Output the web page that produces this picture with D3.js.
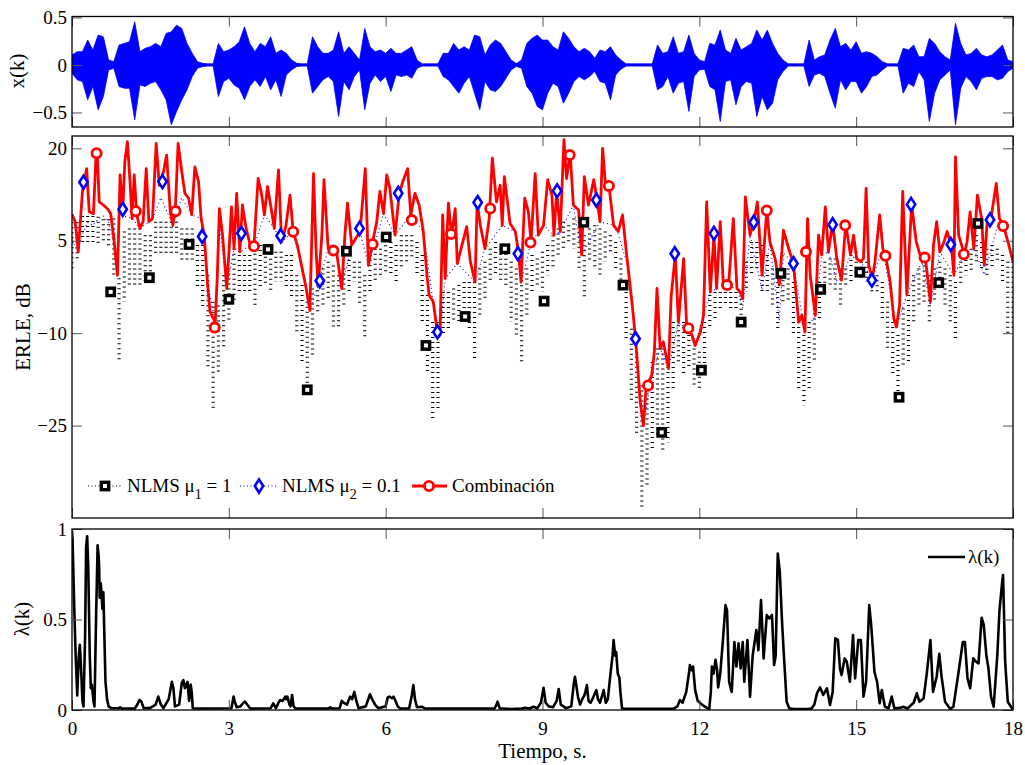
<!DOCTYPE html>
<html>
<head>
<meta charset="utf-8">
<script src="https://cdn.jsdelivr.net/npm/d3@7"></script>
<style>
  body { margin: 0; background: #fff; }
  svg text { font-family: "Liberation Serif", "Times New Roman", serif !important; }
</style>
</head>
<body>
<div id="chart"></div>
<script>
// ---- data ----
var timeTicks = [0, 3, 6, 9, 12, 15, 18];
var sigTicks = [-0.5, 0, 0.5];
var erleTicks = [-25, -10, 5, 20];
var lamTicks = [0, 0.5, 1];

var step = 0.1; // seconds between envelope samples

// x(k): upper / lower envelope of the speech signal, every 0.1 s
var sigUp = [
  .105, .14, .14, .262, .157, .314, .297, .052, .035, .21,
  .227, .245, .454, .14, .175, .192, .227, .192, .332, .349,
  .419, .384, .227, .122, .035, .017, .012, .012, .227, .14,
  .157, .192, .245, .402, .227, .14, .227, .192, .297, .122,
  .157, .122, .052, .017, .012, .012, .297, .192, .122, .122,
  .157, .349, .122, .192, .122, .052, .384, .192, .14, .157,
  .122, .175, .122, .122, .157, .192, .052, .012, .012, .012,
  .012, .122, .122, .227, .157, .192, .157, .314, .297, .105,
  .21, .262, .227, .14, .052, .015, .052, .227, .28, .314,
  .262, .262, .192, .157, .349, .28, .192, .14, .175, .14,
  .07, .157, .14, .192, .105, .052, .012, .012, .012, .012,
  .012, .012, .21, .122, .14, .297, .122, .14, .314, .122,
  .052, .035, .227, .21, .367, .157, .122, .28, .157, .192,
  .227, .367, .262, .367, .227, .122, .052, .012, .012, .012,
  .012, .262, .052, .087, .105, .262, .384, .192, .227, .157,
  .245, .122, .14, .122, .087, .035, .012, .012, .012, .175,
  .157, .21, .087, .087, .28, .227, .14, .087, .052, .437,
  .227, .105, .122, .175, .105, .087, .105, .157, .21, .052,
  .035
];
var sigLo = [
  -.087, -.157, -.175, -.367, -.227, -.472, -.332, -.052, -.035, -.227,
  -.245, -.245, -.577, -.21, -.227, -.192, -.175, -.262, -.367, -.629,
  -.489, -.367, -.262, -.122, -.035, -.017, -.012, -.012, -.332, -.175,
  -.14, -.21, -.245, -.367, -.227, -.157, -.227, -.122, -.262, -.157,
  -.332, -.105, -.052, -.017, -.012, -.012, -.297, -.227, -.157, -.122,
  -.175, -.542, -.175, -.262, -.122, -.052, -.472, -.192, -.105, -.175,
  -.122, -.28, -.105, -.122, -.105, -.14, -.035, -.012, -.012, -.012,
  -.012, -.122, -.157, -.227, -.297, -.192, -.122, -.297, -.472, -.175,
  -.262, -.28, -.227, -.14, -.052, -.015, -.035, -.227, -.297, -.437,
  -.472, -.297, -.192, -.227, -.402, -.297, -.175, -.122, -.157, -.122,
  -.07, -.175, -.192, -.367, -.105, -.045, -.012, -.012, -.012, -.012,
  -.012, -.012, -.262, -.227, -.122, -.297, -.192, -.175, -.489, -.122,
  -.052, -.045, -.227, -.262, -.594, -.175, -.157, -.419, -.227, -.175,
  -.192, -.542, -.332, -.472, -.402, -.157, -.07, -.012, -.012, -.012,
  -.012, -.227, -.105, -.087, -.122, -.297, -.454, -.157, -.262, -.175,
  -.175, -.297, -.227, -.122, -.105, -.052, -.012, -.012, -.012, -.297,
  -.192, -.227, -.07, -.157, -.594, -.297, -.157, -.105, -.052, -.629,
  -.245, -.122, -.175, -.262, -.14, -.122, -.122, -.157, -.14, -.07,
  -.035
];

// NLMS mu1 = 1 : fast oscillating ERLE, high / low extent every 0.1 s (dB)
var nlms1Hi = [
  8, 8, 9, 9, 9, 8.9, 8.5, 8.5, 8.6, -1.1,
  6.5, 7, 7, 7, 5.9, 5.9, 8.1, 8.1, 8.1, 8.1,
  8.1, 7, 7, 7, 4.3, 4.3, -0.6, -4.9, -5.5, -0.6,
  0.5, 3.7, 2.7, 2.7, 2.7, 3.7, 4.3, 3.2, 3.7, 3.2,
  3.2, 2.7, 2.7, -0.6, -2.2, -4.9, -2.75, -0.6, 0.5, 1.6,
  1.0, -0.6, 0.5, 2.7, 1.6, 1.6, -0.6, 2.7, 3.7, 3.7,
  5.9, 4.8, 4.3, 5.9, 5.9, 5.9, 4.8, 2.7, -3.8, -8.2,
  -8.2, -3.3, -3.3, -2.75, -2.2, -1.7, -1.7, -1.7, 0.5, 1.6,
  3.7, 4.8, 3.7, 3.7, 1.6, 0.5, -0.6, 0.5, 2.7, 2.1,
  3.2, 4.3, 5.9, 7.0, 8.1, 7.5, 8.6, 8.1, 5.9, 7.0,
  7.5, 7.0, 6.5, 5.9, 4.8, 2.1, -1.7, -9.3, -13, -18.5,
  -19, -14.7, -12.5, -12.5, -14.7, -8.2, -7.1, -8.2, -10.3, -12.5,
  -13, -8.2, -3.8, -3.3, -3.3, -3.3, -3.3, -3.3, -4.4, 1.6,
  4.8, 4.8, 4.3, 2.7, 0.5, -1.7, -0.6, 0.5, -1.7, -8.2,
  -10.3, -8.2, -6, -1.7, 1.6, 2.1, 2.1, 0.5, 0.5, 2.7,
  3.2, 1.6, 1.6, -0.6, -0.6, -1.7, -4.9, -8.2, -10.3, -6,
  -3.8, -0.6, 0.5, 1.0, -0.6, 0.5, 1.6, 0.5, -0.6, -1.7,
  1.6, 2.7, 3.7, 5.9, 4.8, 3.7, 4.3, 3.7, 2.7, 1.6,
  1.6
];
var nlms1Lo = [
  0.5, 2, 4.5, 4.3, 4.3, 4.3, 4.5, 3.7, -0.6, -14.7,
  -4.9, -2.2, -2.2, -2.2, -1.7, -1.7, 2.7, 2.7, 2.7, 2.7,
  2.7, 1.6, 1.6, 1.6, -2.75, -6, -15.75, -22.3, -16.8, -12.5,
  -8.2, -4.9, -3.8, -3.3, -3.8, -6, -2.75, -2.2, -3.3, -1.7,
  -1.7, -2.75, -4.4, -10.3, -14.7, -19.5, -13.6, -7.1, -5.5, -4.9,
  -9.3, -9.3, -6, -3.3, -1.7, -5.5, -10.6, -3.3, -1.7, -1.1,
  -0.6, -0.6, -1.7, 0.5, 1.6, 2.1, -0.6, -8.2, -16.8, -23.9,
  -22.3, -10.3, -9.3, -8.2, -8.2, -7.1, -9.3, -14.1, -7.1, -4.9,
  -1.7, -0.6, -1.7, -2.2, -8.2, -10.3, -14.7, -7.1, -3.8, -2.2,
  -3.3, -0.6, 0.5, 2.7, 3.7, 4.3, 3.7, 0.5, -4.4, 1.6,
  0.5, -0.6, 1.6, 2.7, 0.5, -2.75, -11.4, -21.2, -26.6, -38.5,
  -34.7, -28.75, -26.6, -29.3, -27.7, -19, -14.7, -16.8, -15.75, -19,
  -19, -15.75, -9.3, -8.2, -6, -5.5, -6, -6.5, -8.2, -3.3,
  -0.6, 0.5, -3.8, -3.3, -6, -9.3, -4.9, -4.9, -10.3, -19,
  -21.7, -19, -14.7, -8.2, -3.8, -2.75, -3.3, -6, -2.75, -1.7,
  -0.6, -1.1, -1.7, -3.8, -3.3, -8.2, -12.5, -16.8, -21.2, -15.75,
  -14.7, -8.2, -6, -4.9, -8.2, -4.9, -2.75, -6, -8.2, -10.9,
  -2.2, -0.6, 0, 1.6, 0.5, -0.6, 0.5, 1.6, -1.7, -10.3,
  -9.3
];

// NLMS mu2 = 0.1 : [t (s), ERLE (dB)]
var nlms2 = [
  [0,5],[0.1,3.5],[0.2,6],[0.3,8],[0.4,7.5],[0.5,8.5],[0.6,9],[0.7,8],[0.8,5],[0.87,-0.6],
  [0.92,12],[1.0,9],[1.15,8.6],[1.3,7],[1.47,8],[1.54,8.6],[1.7,12],[1.93,7.5],[2.1,12],[2.29,9.2],
  [2.47,8.6],[2.59,-1.7],[2.74,-8.2],[2.82,8],[2.96,-2.75],[3.1,3.7],[3.21,3.2],[3.41,4.3],[3.48,4],[3.68,9.2],
  [3.87,7],[4.01,4.8],[4.23,6.5],[4.39,1],[4.55,-6.3],[4.71,-2.2],[4.9,3.7],[5.06,3.2],[5.16,-2.75],[5.35,4.3],
  [5.51,6.5],[5.67,1],[5.96,9.4],[6.18,5.9],[6.48,9.2],[6.72,6.5],[6.98,-9.3],[7.04,-10.3],[7.14,-1.1],[7.37,1.3],
  [7.71,-1.7],[7.9,3.7],[8.23,7.5],[8.48,6.5],[8.59,-1.7],[8.78,4.8],[9.02,7.5],[9.22,5.9],[9.34,6.5],[9.59,10.8],
  [9.75,2.7],[10.1,8.1],[10.36,7.5],[10.45,6.0],[10.61,1.5],[10.71,-4.9],[10.78,-10.9],[10.93,-25],[11.09,-16.8],[11.25,-12.5],
  [11.41,-15.75],[11.6,-8.2],[11.76,-9.3],[11.92,-12],[12.08,-7.1],[12.21,-3.3],[12.46,-2.2],[12.72,-2.75],[12.83,-6],[12.97,5.9],
  [13.2,-3],[13.35,4.8],[13.53,-8],[13.61,3],[13.8,1.3],[14.02,-9.8],[14.22,-7.1],[14.34,2.7],[14.47,3.2],[14.63,-1.5],
  [14.72,-1.4],[14.89,2.7],[15.08,1.6],[15.31,-1.1],[15.51,3.7],[15.77,-9],[15.97,-3.8],[16.26,1.6],[16.42,-5.5],[16.6,3.2],
  [16.87,-0.6],[17.07,2.8],[17.25,3.7],[17.45,-0.5],[17.74,8.6],[17.92,4.3],[18,1.6]
];

// Combinacion : [t (s), ERLE (dB)]
var comb = [
  [0,9.3],[0.06,8.1],[0.12,3.2],[0.2,13],[0.28,16.7],[0.33,9.7],[0.41,9.4],[0.46,18.9],[0.485,18.9],[0.52,11.3],
  [0.6,10.8],[0.68,10.2],[0.74,9.4],[0.8,5.4],[0.87,-0.6],[0.92,15.7],[0.97,9.7],[1.01,17.8],[1.06,21.1],[1.11,14.6],
  [1.15,8.6],[1.19,15.7],[1.24,9.2],[1.3,7.0],[1.36,8.1],[1.42,16.7],[1.47,8.1],[1.54,8.6],[1.61,20.8],[1.67,14],
  [1.75,16.2],[1.81,18.9],[1.88,9.7],[1.93,7.5],[1.98,10.8],[2.03,20.8],[2.1,16.2],[2.16,12.7],[2.23,11.9],[2.29,9.2],
  [2.35,17],[2.42,14.6],[2.47,8.6],[2.53,5.9],[2.59,-1.7],[2.64,-6.5],[2.69,-7.4],[2.74,-8.2],[2.78,-0.6],[2.82,10.2],
  [2.88,5.9],[2.96,-2.75],[3.01,4.3],[3.05,10.5],[3.1,3.7],[3.15,12.7],[3.21,3.2],[3.26,10.8],[3.33,7],[3.41,4.3],
  [3.48,4.0],[3.56,15.1],[3.63,12.4],[3.68,9.2],[3.74,13.8],[3.81,10.2],[3.87,7],[3.95,16.5],[4.01,4.8],[4.09,7.3],
  [4.17,12.4],[4.23,6.5],[4.31,4.3],[4.39,1],[4.48,-2.75],[4.55,-6.3],[4.62,15.9],[4.67,3.2],[4.71,-2.2],[4.78,5.9],
  [4.82,14.9],[4.9,3.7],[5.0,3.7],[5.06,3.2],[5.16,-2.75],[5.22,5.9],[5.27,11.1],[5.35,4.3],[5.43,5.4],[5.51,6.5],
  [5.61,16.7],[5.67,1.0],[5.75,4.8],[5.83,8.1],[5.89,13],[5.96,9.4],[6.02,15.7],[6.08,13.5],[6.18,5.9],[6.26,12.7],
  [6.34,14.9],[6.42,16.7],[6.48,9.2],[6.56,12.7],[6.64,10.8],[6.72,6.5],[6.79,-0.6],[6.83,-3.8],[6.91,-4.9],[6.98,-9.3],
  [7.04,-10.3],[7.09,9.2],[7.14,-1.1],[7.2,11.1],[7.26,5.9],[7.33,10.2],[7.37,1.3],[7.46,4.3],[7.55,7.3],[7.62,1.6],
  [7.71,-1.7],[7.75,11.3],[7.81,7.5],[7.9,3.7],[7.98,8.6],[8.04,18.4],[8.12,11.3],[8.19,14],[8.23,7.5],[8.27,15.4],
  [8.38,7.8],[8.48,6.5],[8.54,3.2],[8.59,-1.7],[8.66,11.9],[8.73,9.7],[8.78,4.8],[8.86,15.9],[8.92,5.9],[9.02,7.5],
  [9.1,14.9],[9.18,12.4],[9.22,5.9],[9.27,13],[9.34,6.5],[9.41,21.4],[9.46,15.1],[9.53,19.2],[9.59,10.8],[9.69,10],
  [9.75,2.7],[9.8,15.4],[9.88,10.8],[9.98,14.9],[10.04,11.9],[10.1,8.1],[10.15,20],[10.21,13.5],[10.27,14],[10.36,7.5],
  [10.45,6.5],[10.53,9.2],[10.61,2.7],[10.71,-4.9],[10.78,-10.9],[10.87,-21.2],[10.93,-25],[10.98,-19],[11.03,-17.9],[11.09,-16.8],
  [11.14,-13],[11.19,-2.75],[11.25,-12.5],[11.31,-11.4],[11.41,-15.75],[11.46,-4.1],[11.54,2.7],[11.6,-8.2],[11.7,2.1],[11.76,-9.3],
  [11.86,-10.3],[11.92,-12],[12.02,-9.8],[12.08,-7.1],[12.14,11.3],[12.21,-3.3],[12.28,5.9],[12.33,-2.75],[12.4,8.1],[12.46,-2.2],
  [12.56,-2.2],[12.65,8.6],[12.72,-2.75],[12.78,-3.3],[12.83,-4.4],[12.88,12.1],[12.97,5.9],[13.05,8.4],[13.11,11.3],[13.2,-0.6],
  [13.29,10],[13.35,4.8],[13.45,2.1],[13.53,-2.2],[13.61,6.7],[13.71,3.7],[13.8,1.3],[13.9,-8.2],[13.96,-7.1],[14.02,-9.8],
  [14.07,8.6],[14.12,-0.6],[14.22,-7.1],[14.28,5.9],[14.34,2.7],[14.41,10.5],[14.47,3.2],[14.55,7.8],[14.63,2.1],[14.72,-1.4],
  [14.8,7.8],[14.89,2.7],[14.95,5.9],[15.01,2.1],[15.08,1.6],[15.14,2.1],[15.19,13.5],[15.24,1.0],[15.31,-1.1],[15.36,1.6],
  [15.45,9.2],[15.51,3.7],[15.56,2.7],[15.65,-1.7],[15.72,-7.6],[15.77,-9],[15.83,-5.5],[15.89,13],[15.97,-3.8],[16.06,10.8],
  [16.15,4.8],[16.26,1.6],[16.32,2.4],[16.42,-4.9],[16.48,4.3],[16.54,8.1],[16.6,3.2],[16.68,4.8],[16.74,6.5],[16.82,4.3],
  [16.87,-0.6],[16.9,18.6],[16.96,5.9],[17.07,2.8],[17.12,4.8],[17.18,9.7],[17.25,3.7],[17.32,12.4],[17.4,8.6],[17.45,1.0],
  [17.51,8.6],[17.57,8.1],[17.68,14.3],[17.74,8.6],[17.82,7.4],[17.92,4.3],[18,1.6]
];

// marker positions [t (s), ERLE (dB)]
var squareMarks = [
  [0.74,-3.3],[1.48,-1.0],[2.24,4.4],[3.00,-4.5],[3.75,3.6],[4.50,-19.2],[5.25,3.3],[6.01,5.6],
  [6.77,-12.0],[7.52,-7.3],[8.28,3.7],[9.03,-4.8],[9.79,8.0],[10.54,-2.2],[11.28,-26.1],[12.04,-16.0],
  [12.80,-8.2],[13.56,-0.3],[14.32,-2.9],[15.07,-0.1],[15.82,-20.4],[16.58,-1.8],[17.33,7.8]
];
var diamondMarks = [
  [0.22,14.5],[0.97,10.1],[1.73,14.6],[2.49,5.7],[3.24,6.2],[3.99,5.8],[4.74,-1.5],[5.50,7.0],
  [6.24,12.7],[6.99,-9.8],[7.76,11.2],[8.53,2.9],[9.28,13.1],[10.03,11.6],[10.78,-10.9],[11.53,2.9],
  [12.28,6.2],[13.04,8.0],[13.80,1.3],[14.55,7.6],[15.30,-1.4],[16.05,10.9],[16.81,4.4],[17.56,8.4]
];
var circleMarks = [
  [0.47,19.2],[1.22,9.8],[1.98,9.8],[2.73,-9.1],[3.48,4.1],[4.23,6.45],[5.00,3.4],[5.75,4.45],
  [6.50,8.35],[7.25,6.1],[8.00,10.25],[8.77,4.7],[9.52,18.9],[10.27,13.9],[11.02,-18.5],[11.79,-9.2],
  [12.53,-2.2],[13.29,9.9],[14.04,3.2],[14.79,7.5],[15.56,2.55],[16.31,2.3],[17.06,2.8],[17.81,7.4]
];

// lambda(k) : [t (s), value]
var lambda = [
  [0,0.99],[0.01,0.95],[0.04,0.6],[0.07,0.3],[0.1,0.08],[0.13,0.3],[0.15,0.36],[0.17,0.25],[0.2,0.05],[0.22,0.02],
  [0.25,0.4],[0.27,0.9],[0.29,0.96],[0.31,0.8],[0.34,0.3],[0.36,0.12],[0.38,0.14],[0.41,0.05],[0.43,0.02],[0.46,0.5],
  [0.49,0.91],[0.51,0.85],[0.52,0.78],[0.53,0.62],[0.55,0.7],[0.57,0.62],[0.58,0.56],[0.6,0.65],[0.62,0.4],[0.64,0.16],
  [0.67,0.06],[0.7,0.02],[0.75,0.01],[0.9,0.01],[0.92,0.015],[0.95,0.008],[1.2,0.008],[1.25,0.03],[1.29,0.055],[1.33,0.045],
  [1.37,0.01],[1.5,0.012],[1.6,0.03],[1.65,0.074],[1.7,0.03],[1.75,0.01],[1.85,0.06],[1.91,0.156],[1.94,0.12],[1.97,0.02],
  [2.05,0.03],[2.1,0.15],[2.13,0.165],[2.16,0.12],[2.18,0.14],[2.21,0.155],[2.24,0.05],[2.27,0.14],[2.29,0.1],[2.31,0.01],
  [2.4,0.008],[3.05,0.01],[3.09,0.074],[3.12,0.04],[3.15,0.015],[3.22,0.02],[3.28,0.04],[3.31,0.046],[3.35,0.03],[3.41,0.008],
  [3.8,0.01],[3.85,0.037],[3.9,0.01],[3.95,0.04],[3.98,0.055],[4.03,0.05],[4.08,0.074],[4.1,0.06],[4.12,0.074],[4.16,0.03],
  [4.18,0.02],[4.21,0.083],[4.24,0.02],[4.28,0.008],[4.9,0.008],[4.94,0.015],[4.98,0.008],[5.12,0.01],[5.16,0.05],[5.2,0.04],
  [5.26,0.03],[5.32,0.074],[5.36,0.06],[5.4,0.1],[5.44,0.05],[5.48,0.01],[5.62,0.02],[5.7,0.087],[5.74,0.06],[5.8,0.028],
  [5.86,0.01],[6.0,0.02],[6.04,0.07],[6.07,0.074],[6.12,0.065],[6.15,0.074],[6.19,0.05],[6.23,0.02],[6.28,0.008],[6.45,0.01],
  [6.5,0.08],[6.53,0.138],[6.56,0.06],[6.6,0.015],[6.7,0.018],[6.75,0.008],[8.08,0.008],[8.12,0.03],[8.14,0.046],[8.18,0.01],
  [8.4,0.005],[8.6,0.008],[8.67,0.012],[8.75,0.008],[8.83,0.018],[8.9,0.01],[8.97,0.04],[9.02,0.123],[9.06,0.04],[9.12,0.02],
  [9.2,0.015],[9.27,0.05],[9.31,0.116],[9.35,0.03],[9.45,0.01],[9.55,0.02],[9.6,0.15],[9.62,0.184],[9.65,0.13],[9.68,0.07],
  [9.72,0.03],[9.76,0.06],[9.8,0.08],[9.82,0.1],[9.85,0.138],[9.88,0.05],[9.92,0.04],[9.97,0.07],[10.03,0.11],[10.06,0.06],
  [10.1,0.04],[10.14,0.08],[10.17,0.11],[10.21,0.04],[10.25,0.06],[10.3,0.2],[10.34,0.3],[10.36,0.386],[10.39,0.3],[10.41,0.32],
  [10.44,0.2],[10.47,0.18],[10.49,0.1],[10.52,0.01],[10.6,0.006],[11.5,0.006],[11.58,0.02],[11.63,0.055],[11.68,0.04],[11.75,0.1],
  [11.8,0.2],[11.82,0.248],[11.85,0.22],[11.88,0.24],[11.92,0.11],[11.97,0.05],[12.05,0.03],[12.15,0.01],[12.19,0.006],[12.22,0.1],
  [12.24,0.24],[12.27,0.2],[12.31,0.277],[12.34,0.22],[12.36,0.125],[12.4,0.2],[12.45,0.38],[12.48,0.5],[12.5,0.58],[12.53,0.55],
  [12.57,0.156],[12.6,0.12],[12.62,0.1],[12.67,0.376],[12.71,0.24],[12.75,0.368],[12.79,0.23],[12.83,0.376],[12.86,0.157],[12.92,0.387],
  [12.97,0.074],[13.02,0.3],[13.09,0.442],[13.13,0.33],[13.18,0.608],[13.23,0.285],[13.29,0.525],[13.34,0.506],[13.39,0.525],[13.43,0.249],
  [13.46,0.3],[13.5,0.865],[13.54,0.76],[13.58,0.5],[13.61,0.34],[13.67,0.046],[13.72,0.01],[13.8,0.005],[14.1,0.005],[14.15,0.01],
  [14.2,0.03],[14.25,0.092],[14.31,0.125],[14.37,0.083],[14.44,0.12],[14.5,0.028],[14.55,0.1],[14.6,0.396],[14.65,0.387],[14.69,0.23],
  [14.72,0.193],[14.78,0.285],[14.82,0.267],[14.88,0.156],[14.94,0.414],[14.98,0.175],[15.04,0.386],[15.09,0.386],[15.14,0.074],[15.19,0.156],
  [15.25,0.58],[15.29,0.46],[15.35,0.21],[15.4,0.156],[15.45,0.037],[15.49,0.11],[15.55,0.018],[15.62,0.01],[15.68,0.074],[15.73,0.01],
  [15.85,0.012],[15.9,0.018],[15.98,0.008],[16.1,0.04],[16.16,0.092],[16.21,0.046],[16.29,0.064],[16.35,0.2],[16.42,0.386],[16.47,0.1],
  [16.54,0.184],[16.59,0.31],[16.63,0.193],[16.7,0.046],[16.8,0.006],[16.86,0.018],[16.96,0.212],[17.04,0.376],[17.08,0.376],[17.13,0.175],
  [17.18,0.12],[17.24,0.285],[17.29,0.267],[17.34,0.258],[17.4,0.51],[17.44,0.47],[17.49,0.304],[17.53,0.23],[17.58,0.074],[17.63,0.018],
  [17.7,0.304],[17.74,0.543],[17.79,0.7],[17.81,0.746],[17.85,0.267],[17.9,0.046],[17.98,0.01],[18,0.008]
];

// ---- layout ----
var wide = 1025;
var high = 765;
var left = 72;
var right = 1013;
var tickLen = 10;
var serif = "'Liberation Serif', 'Times New Roman', serif";

var svg = d3.select("#chart").append("svg")
  .attr("width", wide)
  .attr("height", high)
  .style("font-family", serif);

var x = d3.scaleLinear().domain([0, 18]).range([left, right]);
var ySig = d3.scaleLinear().domain([-0.653, 0.51]).range([127, 16.5]);
var yErle = d3.scaleLinear().domain([-40, 22]).range([518, 136]);
var yLam = d3.scaleLinear().domain([0, 1]).range([710, 529]);

function fmtNum(d) {
  if (d === 0) return "0";
  if (Math.abs(d) < 1) return d3.format(".1f")(d);
  return d3.format("d")(d);
}

function clip(id, y) {
  svg.append("clipPath").attr("id", id).append("rect")
    .attr("x", left).attr("y", y.range()[1])
    .attr("width", right - left).attr("height", y.range()[0] - y.range()[1]);
}

function styleAxis(sel) {
  sel.attr("font-family", null).style("font-family", serif);
  sel.select(".domain").remove();
  sel.selectAll("line").attr("stroke", "#555").attr("stroke-width", 1);
  sel.selectAll("text").style("font-family", serif)
    .attr("font-size", 19).attr("fill", "#000");
}

function frame(y, yTicks, showX) {
  var top = y.range()[1];
  var bottom = y.range()[0];
  svg.append("g").attr("transform", "translate(0," + bottom + ")")
    .call(d3.axisBottom(x).tickValues(timeTicks).tickSize(-tickLen).tickPadding(12)
      .tickFormat(showX ? d3.format("d") : ""))
    .call(styleAxis);
  svg.append("g").attr("transform", "translate(0," + top + ")")
    .call(d3.axisTop(x).tickValues(timeTicks).tickSize(-tickLen).tickFormat(""))
    .call(styleAxis);
  svg.append("g").attr("transform", "translate(" + left + ",0)")
    .call(d3.axisLeft(y).tickValues(yTicks).tickSize(-tickLen).tickPadding(5).tickFormat(fmtNum))
    .call(styleAxis);
  svg.append("g").attr("transform", "translate(" + right + ",0)")
    .call(d3.axisRight(y).tickValues(yTicks).tickSize(-tickLen).tickFormat(""))
    .call(styleAxis);
  svg.append("rect")
    .attr("x", left).attr("y", top)
    .attr("width", right - left).attr("height", bottom - top)
    .attr("fill", "none").attr("stroke", "#000").attr("stroke-width", 1.3);
}

function yLabel(txt, xPos, yPos) {
  svg.append("text")
    .attr("transform", "translate(" + xPos + "," + yPos + ") rotate(-90)")
    .attr("text-anchor", "middle")
    .attr("font-size", 21)
    .style("font-family", serif)
    .text(txt);
}

// ---- top: x(k) ----
clip("c1", ySig);
var g1 = svg.append("g").attr("clip-path", "url(#c1)");
g1.append("path")
  .datum(sigUp)
  .attr("d", d3.area()
    .x(function(d, i) { return x(i * step); })
    .y0(function(d, i) { return ySig(sigLo[i]); })
    .y1(function(d) { return ySig(d); }))
  .attr("fill", "#0000ff")
  .attr("stroke", "#0000ff")
  .attr("stroke-width", 0.8);
frame(ySig, sigTicks, false);
yLabel("x(k)", 24, 71);

// ---- middle: ERLE ----
clip("c2", yErle);
var g2 = svg.append("g").attr("clip-path", "url(#c2)");

g2.selectAll("line.nlms1")
  .data(nlms1Hi)
  .enter()
  .append("line")
  .attr("class", "nlms1")
  .attr("x1", function(d, i) { return x(i * step); })
  .attr("x2", function(d, i) { return x(i * step); })
  .attr("y1", function(d) { return yErle(d); })
  .attr("y2", function(d, i) { return yErle(nlms1Lo[i]); })
  .attr("stroke", "#000")
  .attr("stroke-width", 3.2)
  .attr("stroke-dasharray", "1,4");

var erleLine = d3.line()
  .x(function(d) { return x(d[0]); })
  .y(function(d) { return yErle(d[1]); });

g2.append("path")
  .datum(nlms2)
  .attr("d", erleLine)
  .attr("fill", "none")
  .attr("stroke", "#0000ff")
  .attr("stroke-width", 1.1)
  .attr("stroke-dasharray", "1,3");

g2.append("path")
  .datum(comb)
  .attr("d", erleLine)
  .attr("fill", "none")
  .attr("stroke", "#ff0000")
  .attr("stroke-width", 2.8)
  .attr("stroke-linejoin", "round");

var diamondPath = "M0,-6.5L4.2,0L0,6.5L-4.2,0Z";

function squares(sel) {
  sel.append("rect").attr("x", -3.7).attr("y", -3.7).attr("width", 7.4).attr("height", 7.4)
    .attr("fill", "#fff").attr("stroke", "#000").attr("stroke-width", 3.4);
}
function diamonds(sel) {
  sel.append("path").attr("d", diamondPath)
    .attr("fill", "#fff").attr("stroke", "#0000ff").attr("stroke-width", 2.6);
}
function circles(sel) {
  sel.append("circle").attr("r", 4.6)
    .attr("fill", "#fff").attr("stroke", "#ff0000").attr("stroke-width", 2.8);
}

g2.selectAll("g.sq").data(squareMarks).enter().append("g")
  .attr("class", "sq")
  .attr("transform", function(d) { return "translate(" + x(d[0]) + "," + yErle(d[1]) + ")"; })
  .call(squares);
g2.selectAll("g.di").data(diamondMarks).enter().append("g")
  .attr("class", "di")
  .attr("transform", function(d) { return "translate(" + x(d[0]) + "," + yErle(d[1]) + ")"; })
  .call(diamonds);
g2.selectAll("g.ci").data(circleMarks).enter().append("g")
  .attr("class", "ci")
  .attr("transform", function(d) { return "translate(" + x(d[0]) + "," + yErle(d[1]) + ")"; })
  .call(circles);

frame(yErle, erleTicks, false);
yLabel("ERLE, dB", 30, 327);

// legend
var legY = 486;
var leg = svg.append("g").style("font-family", serif);
leg.append("line").attr("x1", 88).attr("x2", 122).attr("y1", legY).attr("y2", legY)
  .attr("stroke", "#000").attr("stroke-width", 1.2).attr("stroke-dasharray", "1,2.5");
leg.append("g").attr("transform", "translate(105," + legY + ")").call(squares);
var t1 = leg.append("text").attr("x", 127).attr("y", legY + 6).attr("font-size", 19);
t1.append("tspan").text("NLMS \u03bc");
t1.append("tspan").attr("dy", 7).attr("font-size", 14).text("1");
t1.append("tspan").attr("dy", -7).text(" = 1");

leg.append("line").attr("x1", 240).attr("x2", 278).attr("y1", legY).attr("y2", legY)
  .attr("stroke", "#0000ff").attr("stroke-width", 1.2).attr("stroke-dasharray", "1,2.5");
leg.append("g").attr("transform", "translate(259," + legY + ")").call(diamonds);
var t2 = leg.append("text").attr("x", 282).attr("y", legY + 6).attr("font-size", 19);
t2.append("tspan").text("NLMS \u03bc");
t2.append("tspan").attr("dy", 7).attr("font-size", 14).text("2");
t2.append("tspan").attr("dy", -7).text(" = 0.1");

leg.append("line").attr("x1", 412).attr("x2", 447).attr("y1", legY).attr("y2", legY)
  .attr("stroke", "#ff0000").attr("stroke-width", 2.8);
leg.append("g").attr("transform", "translate(429," + legY + ")").call(circles);
leg.append("text").attr("x", 452).attr("y", legY + 6).attr("font-size", 19).text("Combinaci\u00f3n");

// ---- bottom: lambda(k) ----
clip("c3", yLam);
var g3 = svg.append("g").attr("clip-path", "url(#c3)");
g3.append("path")
  .datum(lambda)
  .attr("d", d3.line()
    .x(function(d) { return x(d[0]); })
    .y(function(d) { return yLam(d[1]); }))
  .attr("fill", "none")
  .attr("stroke", "#000")
  .attr("stroke-width", 2.6)
  .attr("stroke-linejoin", "round");
frame(yLam, lamTicks, true);
yLabel("\u03bb(k)", 29, 619);

svg.append("line").attr("x1", 928).attr("x2", 965).attr("y1", 557).attr("y2", 557)
  .attr("stroke", "#000").attr("stroke-width", 2.6);
svg.append("text").attr("x", 968).attr("y", 563).attr("font-size", 19)
  .style("font-family", serif).text("\u03bb(k)");

svg.append("text")
  .attr("x", (left + right) / 2)
  .attr("y", 758)
  .attr("text-anchor", "middle")
  .attr("font-size", 21)
  .style("font-family", serif)
  .text("Tiempo, s.");
</script>
</body>
</html>
